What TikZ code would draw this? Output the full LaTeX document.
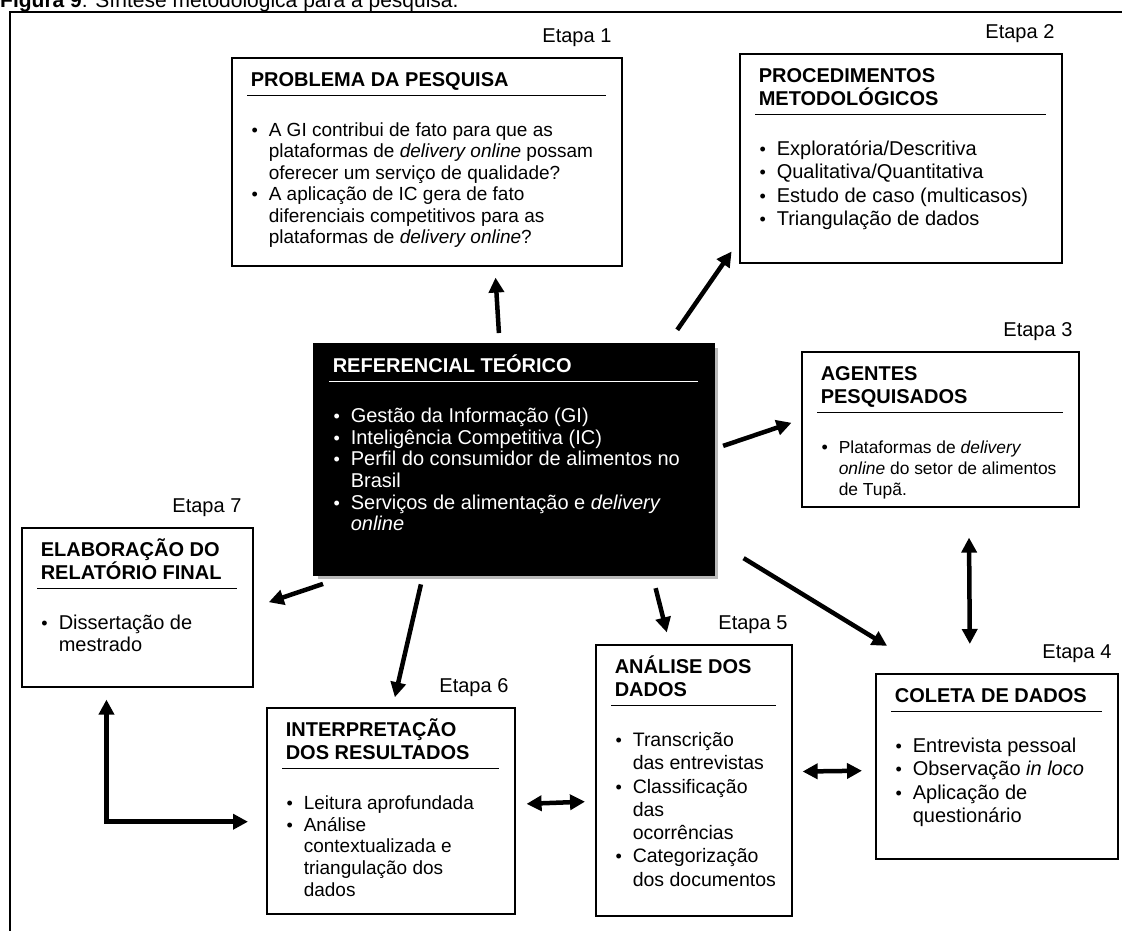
\documentclass[tikz,border=0pt]{standalone}
\usepackage{fontspec}
\setmainfont{Liberation Sans}
\usepackage{enumitem}
\usetikzlibrary{positioning,arrows.meta,shadows}

\newcommand{\dotmark}{{\fontsize{18}{18}\selectfont\textbullet}}

% body size, body skip, box width, box height, heading, items
\newcommand{\stagetext}[6]{%
  \begin{minipage}[t][#4pt][t]{\dimexpr #3pt-31pt\relax}
    {\fontsize{20}{23}\bfseries\raggedright\leftskip=3.5pt\rightskip=-30pt plus 1fil\relax
     \rule{0pt}{29pt}#5\rule[-8pt]{0pt}{8pt}\par}
    \nointerlineskip\hrule height 1.6pt\relax
    \fontsize{#1}{#2}\selectfont\raggedright\rightskip=-30pt plus 1fil\relax
    \prevdepth=0pt
    \vskip\dimexpr 40pt-\baselineskip\relax
    \begin{itemize}[nosep,leftmargin=21.5pt,labelsep=11pt,labelwidth=10.5pt,label=\dotmark]
      #6
    \end{itemize}
  \end{minipage}}

\tikzset{
  stage/.style={draw, line width=1.6pt, fill=white, inner xsep=15.5pt, inner ysep=0pt, anchor=north west},
  refbox/.style={stage, fill=black, text=white,
    drop shadow={shadow xshift=4pt, shadow yshift=-4pt, fill=gray!55, opacity=1}},
  etapa/.style={inner sep=0pt, font=\fontsize{20}{23}\selectfont},
  bigarrow/.style={line width=4.5pt, -{Triangle[length=15pt,width=15pt]}},
  twoway/.style={line width=4.5pt, {Triangle[length=15pt,width=15pt]}-{Triangle[length=15pt,width=15pt]}},
}

\begin{document}
\begin{tikzpicture}[x=1pt, y=-1pt]
  \useasboundingbox (0,0) rectangle (1122,931);

  % caption and frame
  \node[anchor=base west, inner sep=0pt, font=\fontsize{21}{24}\selectfont] (title) at (0,8)
    {\textbf{Figura 9}: Síntese metodológica para a pesquisa.};
  \draw[line width=1.5pt] (10,12) rectangle (1150,960);

  % centre
  \node[refbox] (ref) at (313,343) {\stagetext{20}{21.7}{400}{231}{REFERENCIAL TEÓRICO}{
    \item Gestão da Informação (GI)
    \item Inteligência Competitiva (IC)
    \item Perfil do consumidor de alimentos no\newline Brasil
    \item Serviços de alimentação e \textit{delivery}\newline \textit{online}}};

  % stages
  \node[stage] (prob) at (231,57) {\stagetext{19}{21.5}{390}{208}{PROBLEMA DA PESQUISA}{
    \item A GI contribui de fato para que as\newline plataformas de \textit{delivery online} possam\newline oferecer um serviço de qualidade?
    \item A aplicação de IC gera de fato\newline diferenciais competitivos para as\newline plataformas de \textit{delivery online}?}};
  \node[stage] (proc) at (739,53) {\stagetext{20}{23.5}{322}{209}{PROCEDIMENTOS\\METODOLÓGICOS}{
    \item Exploratória/Descritiva
    \item Qualitativa/Quantitativa
    \item Estudo de caso (multicasos)
    \item Triangulação de dados}};
  \node[stage] (agent) at (801,351) {\stagetext{17.4}{21}{277}{155}{AGENTES\\PESQUISADOS}{
    \item Plataformas de \textit{delivery}\newline \textit{online} do setor de alimentos\newline de Tupã.}};
  \node[stage] (coleta) at (875,673) {\stagetext{20}{23.5}{242}{185}{COLETA DE DADOS}{
    \item Entrevista pessoal
    \item Observação \textit{in loco}
    \item Aplicação de\newline questionário}};
  \node[stage] (anal) at (595,644) {\stagetext{19.5}{23.3}{196}{271}{ANÁLISE DOS\\DADOS}{
    \item Transcrição\newline das entrevistas
    \item Classificação\newline das\newline ocorrências
    \item Categorização\newline dos documentos}};
  \node[stage] (interp) at (266,707) {\stagetext{19}{21.75}{248}{206}{INTERPRETAÇÃO\\DOS RESULTADOS}{
    \item Leitura aprofundada
    \item Análise\newline contextualizada e\newline triangulação dos\newline dados}};
  \node[stage] (relat) at (21,527) {\stagetext{20}{22}{231}{159}{ELABORAÇÃO DO\\RELATÓRIO FINAL}{
    \item Dissertação de\newline mestrado}};

  % step labels
  \node[etapa, above left=10pt and 11pt of prob.north east] (e1) {Etapa 1};
  \node[etapa, above left=10pt and 8pt of proc.north east] (e2) {Etapa 2};
  \node[etapa, above left=10pt and 7pt of agent.north east] (e3) {Etapa 3};
  \node[etapa, above left=10pt and 7pt of coleta.north east] (e4) {Etapa 4};
  \node[etapa, above left=10pt and 5pt of anal.north east] (e5) {Etapa 5};
  \node[etapa, above left=10pt and 7pt of interp.north east] (e6) {Etapa 6};
  \node[etapa, above left=10pt and 12pt of relat.north east] (e7) {Etapa 7};

  % arrows
  \draw[bigarrow, shorten <=10pt, shorten >=11pt] (ref.97) -- (prob.-57.6);
  \draw[bigarrow, shorten <=16pt, shorten >=13pt] (ref.37.3) -- (proc.207.8);
  \draw[bigarrow, shorten <=9pt, shorten >=10pt] (ref.3.7) -- (agent.176.5);
  \draw[bigarrow, shorten <=34pt, shorten >=52pt] (ref.-22.2) -- (coleta.125.4);
  \draw[bigarrow, shorten <=13pt, shorten >=12pt] (ref.-40.4) -- (anal.100.8);
  \draw[bigarrow, shorten <=9pt, shorten >=10pt] (ref.232.5) -- (interp.89.7);
  \draw[bigarrow, shorten <=26pt, shorten >=16pt] (ref.215.2) -- (relat.0.3);
  \draw[twoway, shorten <=30pt, shorten >=29pt] (agent.-70.2) -- (coleta.106.8);
  \draw[twoway, shorten <=10pt, shorten >=13pt] (anal.5) -- (coleta.182.6);
  \draw[twoway, shorten <=11pt, shorten >=10pt] (interp.3.7) -- (anal.192.9);
  \draw[twoway, shorten <=12pt, shorten >=18pt] (relat.249) |- (interp.185.5);
\end{tikzpicture}
\end{document}
